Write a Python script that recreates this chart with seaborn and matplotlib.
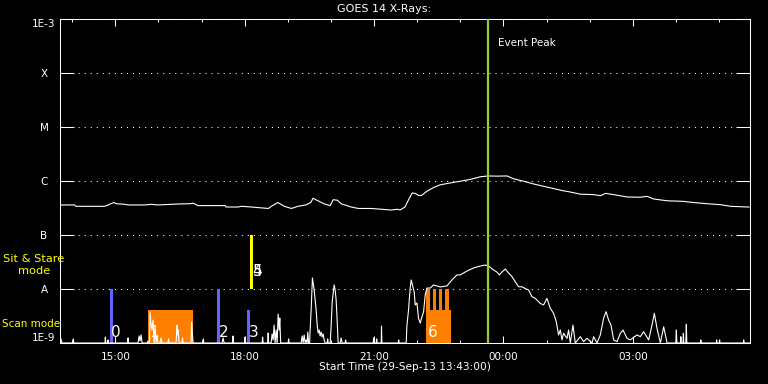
import matplotlib
matplotlib.use("Agg")
import matplotlib.pyplot as plt
from matplotlib.ticker import NullLocator
import seaborn as sns

# time axis: minutes after the start time, 29-Sep-13 13:43:00
FLOOR = 1e-9

# GOES 14, 1-8 A channel (W/m^2)
long_minutes = [1, 20, 22, 62, 65, 70, 75, 78, 90, 95, 118, 127, 136, 164, 182,
                185, 192, 230, 231, 248, 252, 266, 290, 294, 303, 312, 322, 331,
                342, 349, 352, 359, 367, 376, 380, 386, 391, 405, 415, 433, 447,
                461, 470, 473, 480, 485, 490, 494, 499, 503, 510, 520, 529, 543,
                557, 571, 585, 596, 608, 622, 631, 645, 659, 678, 700, 710, 724,
                742, 752, 759, 770, 789, 807, 817, 826, 845, 867, 881, 900, 919,
                933, 956, 959]
long_flux = [3.6e-7, 3.6e-7, 3.4e-7, 3.4e-7, 3.5e-7, 3.75e-7, 4.0e-7, 3.8e-7,
             3.7e-7, 3.6e-7, 3.6e-7, 3.7e-7, 3.6e-7, 3.75e-7, 3.8e-7, 3.9e-7,
             3.5e-7, 3.5e-7, 3.3e-7, 3.3e-7, 3.4e-7, 3.3e-7, 3.1e-7, 3.4e-7,
             4.0e-7, 3.4e-7, 3.1e-7, 3.4e-7, 3.6e-7, 4.0e-7, 4.8e-7, 4.3e-7,
             3.8e-7, 3.5e-7, 4.5e-7, 4.4e-7, 3.8e-7, 3.3e-7, 3.1e-7, 3.1e-7,
             3.0e-7, 2.9e-7, 3.0e-7, 2.9e-7, 3.3e-7, 4.5e-7, 6.0e-7, 5.9e-7,
             5.4e-7, 5.4e-7, 6.4e-7, 7.6e-7, 8.5e-7, 9.2e-7, 9.9e-7, 1.07e-6,
             1.2e-6, 1.24e-6, 1.23e-6, 1.24e-6, 1.1e-6, 9.9e-7, 8.8e-7, 7.7e-7,
             6.6e-7, 6.25e-7, 5.7e-7, 5.6e-7, 5.35e-7, 5.9e-7, 5.6e-7, 5.06e-7,
             5.0e-7, 5.2e-7, 4.64e-7, 4.3e-7, 4.2e-7, 4.0e-7, 3.8e-7, 3.64e-7,
             3.4e-7, 3.3e-7, 3.3e-7]

# GOES 14, 0.5-4 A channel (W/m^2)
short_minutes = [
    0.7, 1.4, 2.8, 18.1, 18.5, 19.1, 62.6, 63.1, 63.6, 66.1, 66.8, 67.5,
    94.2, 94.7, 95.1, 108.6, 110.0, 111.4, 112.8, 114.2, 121.1, 122.5, 123.9,
    124.6, 125.3, 126.7, 128.1, 129.5, 130.9, 132.2, 133.6, 135.0, 136.4,
    139.2, 140.6, 142.0, 150.4, 151.0, 151.7, 161.5, 162.9, 163.6, 164.3, 165.7,
    169.8, 170.5, 171.2, 182.4, 183.1, 183.8, 185.2, 199.1, 199.5, 200.0,
    225.5, 226.9, 228.3, 240.1, 240.8, 241.5, 256.8, 257.5, 258.2,
    281.2, 281.9, 282.6, 288.9, 289.6, 290.3,
    293.7, 295.1, 296.5, 297.9, 299.3, 300.7, 302.1, 303.5, 304.9, 305.8, 307.0,
    317.4, 318.1, 318.8, 335.5, 336.9, 338.3, 339.7, 341.1, 342.5, 343.8, 344.8, 345.9,
    347.3, 348.0, 349.4, 351.2, 352.2, 353.6, 355.0, 356.4, 357.8, 359.2, 360.6,
    361.9, 363.3, 364.7, 366.1, 367.5, 368.9,
    371.7, 372.4, 373.1, 375.9, 377.3, 378.7, 381.4, 382.8, 384.2, 385.6, 387.0,
    389.8, 391.2, 392.6, 396.7, 397.4, 398.1, 435.7, 436.4, 437.1, 439.9, 440.6, 441.3,
    446.9, 447.3, 447.8, 470.5, 471.2, 471.9,
    481.7, 482.6, 484.9, 487.2, 488.6, 491.0, 492.8, 494.2, 496.6, 498.8,
    501.2, 503.5, 505.8, 508.1, 510.5, 515.1, 519.7, 529.0, 538.3, 545.3,
    552.2, 556.8, 566.2, 575.4, 584.7, 591.6, 596.2, 603.2, 607.9, 611.5,
    614.8, 619.5, 624.1, 628.8, 633.4, 638.0, 642.7, 647.3, 651.9, 656.7,
    661.3, 668.2, 672.8, 677.5, 682.1, 686.7, 690.5, 693.7, 696.1, 698.4,
    700.6, 705.4, 707.6, 710.0, 713.7, 716.9, 723.9, 728.5, 733.2, 740.2,
    742.4, 747.1, 751.7, 756.3, 759.7, 763.3, 766.6, 770.3, 775.0, 779.6,
    783.3, 788.9, 793.5, 802.8, 807.4, 812.0, 819.0, 823.7, 826.9, 830.6,
    835.3, 839.9, 844.6, 856.8, 857.5, 858.2, 863.1, 863.8, 864.5,
    866.8, 867.3, 867.9, 870.7, 871.4, 872.1, 890.9, 891.6, 892.3,
    913.2, 913.6, 914.1, 917.3, 917.7, 918.2, 950.8, 951.2, 951.8, 960.0]
short_flux = [
    FLOOR, 1.19e-9, FLOOR, FLOOR, 1.19e-9, FLOOR, FLOOR, 1.29e-9, FLOOR, FLOOR, 1.14e-9, FLOOR,
    FLOOR, 1.24e-9, FLOOR, FLOOR, 1.35e-9, 1.09e-9, 1.41e-9, FLOOR, FLOOR, 1.09e-9, FLOOR,
    FLOOR, 3.75e-9, 2.15e-9, 1.74e-9, 2.66e-9, FLOOR, 1.74e-9, FLOOR, 1.41e-9, FLOOR,
    FLOOR, 1.24e-9, FLOOR, FLOOR, 1.19e-9, FLOOR, FLOOR, 2.15e-9, 1.41e-9, 1.74e-9, FLOOR,
    FLOOR, 1.24e-9, FLOOR, FLOOR, 2.45e-9, 1.74e-9, FLOOR, FLOOR, 1.19e-9, FLOOR,
    FLOOR, 1.24e-9, FLOOR, FLOOR, 1.35e-9, FLOOR, FLOOR, 1.29e-9, FLOOR,
    FLOOR, 1.29e-9, FLOOR, FLOOR, 1.53e-9, FLOOR,
    FLOOR, 1.47e-9, 1.14e-9, 2.15e-9, FLOOR, 1.74e-9, FLOOR, 3.44e-9, 1.74e-9, 2.9e-9, FLOOR,
    FLOOR, 1.19e-9, FLOOR, FLOOR, 1.35e-9, FLOOR, 1.41e-9, FLOOR, 1.14e-9, FLOOR, 1.6e-9, FLOOR,
    FLOOR, 1.74e-9, 4.08e-9, 1.6e-8, 1.29e-8, 9.6e-9, 6.25e-9, 4.08e-9, 2.15e-9, 1.53e-9, 1.74e-9,
    1.35e-9, 1.6e-9, 1.29e-9, 1.47e-9, 1.14e-9, FLOOR,
    FLOOR, 1.19e-9, FLOOR, FLOOR, 2.15e-9, 5.75e-9, 1.19e-8, 9.6e-9, 6.25e-9, 2.66e-9, FLOOR,
    FLOOR, 1.24e-9, FLOOR, FLOOR, 1.14e-9, FLOOR, FLOOR, 1.24e-9, FLOOR, FLOOR, 1.19e-9, FLOOR,
    FLOOR, 2.06e-9, FLOOR, FLOOR, 1.14e-9, FLOOR,
    FLOOR, 2.06e-9, 4.08e-9, 1.04e-8, 1.47e-8, 1.09e-8, 8.8e-9, 5.06e-9, 5.5e-9, 2.9e-9,
    2.34e-9, 3.03e-9, 3.75e-9, 7.7e-9, 1.04e-8, 1.04e-8, 1.19e-8, 1.09e-8, 1.14e-8, 1.47e-8,
    1.82e-8, 1.82e-8, 2.15e-8, 2.45e-8, 2.66e-8, 2.78e-8, 2.66e-8, 2.25e-8, 2.06e-8, 1.82e-8,
    2.06e-8, 2.34e-8, 1.98e-8, 1.7e-8, 1.36e-8, 1.1e-8, 1.1e-8, 1.02e-8, 9.6e-9, 7.2e-9,
    6.7e-9, 5.4e-9, 5.06e-9, 6.7e-9, 4.4e-9, 3.55e-9, 2.48e-9, 1.41e-9, 1.74e-9, 1.14e-9,
    1.51e-9, 1.22e-9, 1.74e-9, FLOOR, 2.15e-9, FLOOR, 1.31e-9, 1.06e-9, 1.22e-9, FLOOR,
    1.31e-9, FLOOR, 1.41e-9, 2.87e-9, 3.8e-9, 2.66e-9, 2.15e-9, 1.14e-9, 1.06e-9, 1.51e-9,
    1.74e-9, 1.22e-9, 1.14e-9, 1.41e-9, 1.31e-9, 1.62e-9, 1.14e-9, 2.15e-9, 3.55e-9, 1.87e-9,
    FLOOR, 2.0e-9, FLOOR, FLOOR, 1.74e-9, FLOOR, FLOOR, 1.31e-9, FLOOR,
    FLOOR, 1.51e-9, FLOOR, FLOOR, 2.22e-9, FLOOR, FLOOR, 1.14e-9, FLOOR,
    FLOOR, 1.14e-9, FLOOR, FLOOR, 1.14e-9, FLOOR, FLOOR, 1.14e-9, FLOOR, FLOOR]

# observation blocks (minutes, flux band they cover)
obs_start = [69.6, 218.6, 260.3, 264.5, 122.5, 509.5, 509.5, 518.8, 527.2, 535.5]
obs_end = [73.8, 222.7, 264.5, 268.7, 185.2, 544.3, 515.1, 523.4, 531.8, 540.6]
obs_low = [1e-9, 1e-9, 1e-9, 1e-8, 1e-9, 1e-9, 1e-9, 1e-9, 1e-9, 1e-9]
obs_high = [1e-8, 1e-8, 4.1e-9, 1e-7, 4.1e-9, 4.1e-9, 1e-8, 1e-8, 1e-8, 1e-8]
obs_type = ["short", "short", "short", "stare", "scan", "scan", "scan", "scan", "scan", "scan"]

event_ids = ["0", "1", "2", "3", "4", "5", "6"]
event_start = [69.6, 122.5, 218.6, 260.3, 266.2, 266.2, 509.5]
event_mode = ["scan", "scan", "scan", "scan", "stare", "stare", "scan"]

event_peak = 595.4

level_flux = [1e-9, 1e-8, 1e-7, 1e-6, 1e-5, 1e-4, 1e-3]
level_labels = ["1E-9", "A", "B", "C", "M", "X", "1E-3"]
clock_minutes = [77, 257, 437, 617, 797]
clock_labels = ["15:00", "18:00", "21:00", "00:00", "03:00"]
hour_minutes = [17, 137, 197, 317, 377, 497, 557, 677, 737, 857, 917]

obs_colors = {"short": "#6464FF", "stare": "#FFFF00", "scan": "#FF8000"}

sns.set_theme(style="dark", rc={
    "figure.facecolor": "black", "axes.facecolor": "black",
    "axes.edgecolor": "white", "text.color": "white",
    "xtick.color": "white", "ytick.color": "white",
})
plt.rcParams["font.family"] = ["DejaVu Sans"]

fig = plt.figure(figsize=(7.68, 3.84), dpi=100)
ax = fig.add_axes([60 / 768, 41 / 384, 690 / 768, 324 / 384])
ax.set_yscale("log")

for s, e, lo, hi, kind in zip(obs_start, obs_end, obs_low, obs_high, obs_type):
    ax.bar(s, hi - lo, width=e - s, bottom=lo, align="edge",
           color=obs_colors[kind], linewidth=0, zorder=2)

sns.lineplot(x=long_minutes, y=long_flux, color="white", linewidth=0.8,
             sort=False, estimator=None, ax=ax, zorder=3)
sns.lineplot(x=short_minutes, y=short_flux, color="white", linewidth=0.8,
             sort=False, estimator=None, ax=ax, zorder=3)

ax.axvline(event_peak, color="#9ACD32", linewidth=1.6, zorder=4)
ax.text(event_peak + 14, 3.6e-4, "Event Peak", color="white", fontsize=7.5,
        ha="left", va="center", zorder=5)

for eid, start, mode in zip(event_ids, event_start, event_mode):
    y = 1.55e-9 if mode == "scan" else 2.15e-8
    ax.text(start + 1.8, y, eid, color="white", fontsize=11,
            ha="left", va="center", zorder=5)

ax.set_xlim(0, 960)
ax.set_ylim(1e-9, 1e-3)
ax.set_xlabel("")
ax.set_ylabel("")

ax.set_yticks(level_flux, level_labels)
ax.yaxis.set_minor_locator(NullLocator())
ax.tick_params(axis="y", which="major", direction="in", length=10, width=0.75,
               left=True, right=True, pad=11.5, labelsize=7.5, colors="white")
ylabels = ax.get_yticklabels()
for lab in ylabels:
    lab.set_ha("center")
ylabels[0].set_va("bottom")
ylabels[-1].set_va("top")

ax.set_xticks(clock_minutes, clock_labels)
ax.set_xticks(hour_minutes, minor=True)
ax.tick_params(axis="x", which="major", direction="in", length=5, width=0.75,
               top=True, bottom=True, pad=6.5, labelsize=7.5, colors="white")
ax.tick_params(axis="x", which="minor", direction="in", length=2.5, width=0.75,
               top=True, bottom=True)

ax.grid(False)
ax.yaxis.grid(True, color="white", linestyle=(0, (1, 4.8)), linewidth=0.75)
for sp in ax.spines.values():
    sp.set_color("white")
    sp.set_linewidth(0.75)

fig.text(0.5, 1 - 9 / 384, "GOES 14 X-Rays:", ha="center", va="center",
         fontsize=8, color="white")
fig.text(405 / 768, 1 - 367.5 / 384, "Start Time (29-Sep-13 13:43:00)",
         ha="center", va="center", fontsize=7.6, color="white")
fig.text(34 / 768, 1 - 265 / 384, "Sit & Stare\nmode", ha="center", va="center",
         fontsize=8.2, color="yellow", linespacing=1.15)
fig.text(2 / 768, 1 - 324 / 384, "Scan mode", ha="left", va="center",
         fontsize=7.5, color="yellow")

fig.savefig("out.png", dpi=100, facecolor="black")
